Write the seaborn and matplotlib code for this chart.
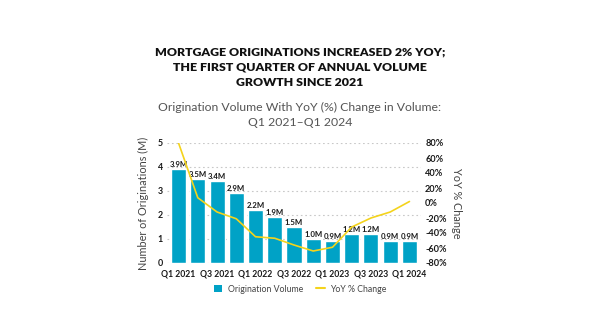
import matplotlib
matplotlib.use("Agg")
import matplotlib.pyplot as plt
import seaborn as sns
import numpy as np
import pandas as pd
from matplotlib.patches import Patch
from matplotlib.lines import Line2D

quarters = ["Q1 2021", "Q2 2021", "Q3 2021", "Q4 2021",
            "Q1 2022", "Q2 2022", "Q3 2022", "Q4 2022",
            "Q1 2023", "Q2 2023", "Q3 2023", "Q4 2023", "Q1 2024"]
volume = [3.9, 3.5, 3.4, 2.9, 2.2, 1.9, 1.5, 1.0, 0.9, 1.2, 1.2, 0.9, 0.9]
yoy = [80, 7, -12, -21, -45, -47, -56, -64, -59, -32, -20, -12, 2]
left_ticks = [0, 1, 2, 3, 4, 5]
right_ticks = [-80, -60, -40, -20, 0, 20, 40, 60, 80]

BAR = "#00a2c6"
LINE = "#f4d31c"
DARK = "#1a1a1a"

sns.set_theme(style="white")
plt.rcParams["font.family"] = ["Lato", "DejaVu Sans"]

df = pd.DataFrame({"quarter": quarters, "volume": volume, "yoy": yoy})

fig = plt.figure(figsize=(6, 3.33), dpi=100)
ax = fig.add_axes([167/600, 1-263/333, (421-167)/600, (263-143)/333])

sns.barplot(data=df, x="quarter", y="volume", color=BAR, saturation=1,
            width=0.78, ax=ax, zorder=2)
for c in ax.containers:
    ax.bar_label(c, labels=[f"{v:.1f}M" for v in volume], padding=1,
                 fontsize=5.6, fontweight="bold", color=DARK)

ax.set_ylim(0, 5)
ax.set_yticks(left_ticks)
ax.set_xlim(-0.6, len(quarters) - 0.4)
ax.set_xticks(range(0, len(quarters), 2))
ax.set_xticklabels(quarters[::2])
ax.tick_params(axis="y", labelsize=6.4, colors=DARK, length=0, pad=3)
ax.tick_params(axis="x", labelsize=6.2, colors=DARK, length=0, pad=5)
for lab in ax.get_xticklabels() + ax.get_yticklabels():
    lab.set_fontweight("bold")
ax.grid(axis="y", linestyle=(0, (1.5, 2.5)), color="#c8c8c8", linewidth=0.8, zorder=0)
ax.set_axisbelow(True)
ax.set_xlabel("")
ax.set_ylabel("Number of Originations (M)", fontsize=7.8, color="#444444", labelpad=6)
for s in ax.spines.values():
    s.set_visible(False)

ax2 = ax.twinx()
sns.lineplot(x=np.arange(len(quarters)), y=yoy, color=LINE, linewidth=1.2, ax=ax2)
ax2.set_ylim(-80, 80)
ax2.set_yticks(right_ticks)
ax2.set_yticklabels([f"{t}%" for t in right_ticks])
ax2.set_xlim(-0.6, len(quarters) - 0.4)
ax2.tick_params(axis="y", labelsize=6.6, colors=DARK, length=0, pad=3)
for lab in ax2.get_yticklabels():
    lab.set_fontweight("bold")
ax2.set_ylabel("YoY % Change", fontsize=7.8, color="#444444", rotation=270, labelpad=11)
for s in ax2.spines.values():
    s.set_visible(False)
ax2.grid(False)

for y, t in [(52, "MORTGAGE ORIGINATIONS INCREASED 2% YOY;"),
             (67, "THE FIRST QUARTER OF ANNUAL VOLUME"),
             (82, "GROWTH SINCE 2021")]:
    fig.text(0.5, 1-y/333, t, ha="center", va="center",
             fontsize=8.9, fontweight="heavy", color="#111111")
fig.text(0.5, 1-107/333, "Origination Volume With YoY (%) Change in Volume:", ha="center",
         va="center", fontsize=8.8, color="#555555")
fig.text(0.5, 1-122/333, "Q1 2021\u2013Q1 2024", ha="center", va="center",
         fontsize=8.8, color="#555555")

handles = [Patch(facecolor=BAR, edgecolor="none"),
           Line2D([0], [0], color=LINE, linewidth=1.5)]
fig.legend(handles, ["Origination Volume", "YoY % Change"], loc="center",
           bbox_to_anchor=(0.5, 1-289/333), ncol=2, frameon=False, fontsize=6.3,
           handlelength=1.0, handleheight=1.0, columnspacing=1.5, handletextpad=0.6,
           labelcolor="#444444")

fig.savefig("out.png", dpi=100)
